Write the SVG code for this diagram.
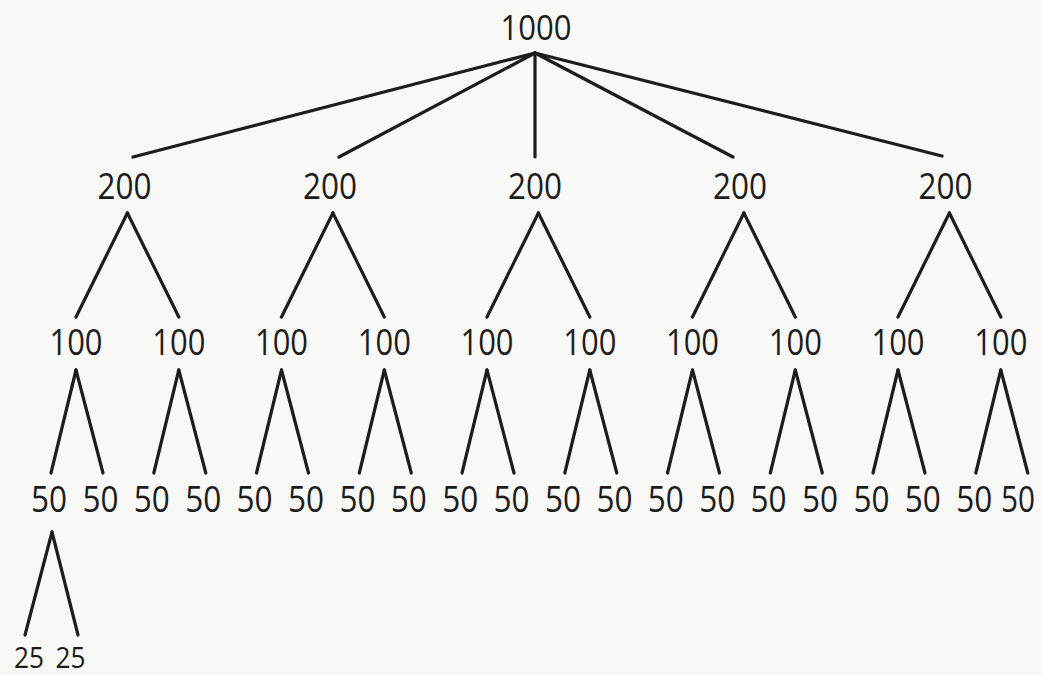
<svg xmlns="http://www.w3.org/2000/svg" width="1042" height="675" viewBox="0 0 1042 675">
<style>
.bg{fill:#f8f8f6}
text{font-family:"Open Sans","Noto Sans","DejaVu Sans",sans-serif;fill:#1c1c1c;text-anchor:middle}
.l0{font-size:35px}
.l1,.l2,.l3{font-size:37px}
.l4{font-size:29px}
.c line{stroke:#1c1c1c;stroke-width:3.2;stroke-linecap:round}
</style>
<rect class="bg" width="1042" height="675"/>
<g id="connectors" class="c">
<line x1="535" y1="53" x2="133" y2="157"/>
<line x1="535" y1="53" x2="339" y2="157"/>
<line x1="535" y1="53" x2="535" y2="157"/>
<line x1="535" y1="53" x2="733" y2="157"/>
<line x1="535" y1="53" x2="942" y2="156"/>
<line x1="127.4" y1="213" x2="76" y2="317"/><line x1="127.4" y1="213" x2="178.8" y2="317"/>
<line x1="332.9" y1="213" x2="281.5" y2="317"/><line x1="332.9" y1="213" x2="384.3" y2="317"/>
<line x1="538.4" y1="213" x2="487" y2="317"/><line x1="538.4" y1="213" x2="589.8" y2="317"/>
<line x1="743.9" y1="213" x2="692.5" y2="317"/><line x1="743.9" y1="213" x2="795.3" y2="317"/>
<line x1="949.4" y1="213" x2="898" y2="317"/><line x1="949.4" y1="213" x2="1000.8" y2="317"/>
<line x1="76" y1="370" x2="51" y2="473"/><line x1="76" y1="370" x2="103" y2="473"/>
<line x1="178.8" y1="370" x2="153.8" y2="473"/><line x1="178.8" y1="370" x2="205.8" y2="473"/>
<line x1="281.5" y1="370" x2="256.5" y2="473"/><line x1="281.5" y1="370" x2="308.5" y2="473"/>
<line x1="384.3" y1="370" x2="359.3" y2="473"/><line x1="384.3" y1="370" x2="411.3" y2="473"/>
<line x1="487" y1="370" x2="462" y2="473"/><line x1="487" y1="370" x2="514" y2="473"/>
<line x1="589.8" y1="370" x2="564.8" y2="473"/><line x1="589.8" y1="370" x2="616.8" y2="473"/>
<line x1="692.5" y1="370" x2="667.5" y2="473"/><line x1="692.5" y1="370" x2="719.5" y2="473"/>
<line x1="795.3" y1="370" x2="770.3" y2="473"/><line x1="795.3" y1="370" x2="822.3" y2="473"/>
<line x1="898" y1="370" x2="873" y2="473"/><line x1="898" y1="370" x2="925" y2="473"/>
<line x1="1000.8" y1="370" x2="975.8" y2="473"/><line x1="1000.8" y1="370" x2="1027.8" y2="473"/>
<line x1="52" y1="532" x2="25" y2="635"/><line x1="52" y1="532" x2="78" y2="635"/>
</g>
<g id="n1000"><text class="l0" x="536" y="40" textLength="71" lengthAdjust="spacingAndGlyphs">1000</text></g>
<g id="n200a"><text class="l1" x="124.5" y="199" textLength="54" lengthAdjust="spacingAndGlyphs">200</text></g>
<g id="n200b"><text class="l1" x="330" y="199" textLength="54" lengthAdjust="spacingAndGlyphs">200</text></g>
<g id="n200c"><text class="l1" x="535" y="199" textLength="54" lengthAdjust="spacingAndGlyphs">200</text></g>
<g id="n200d"><text class="l1" x="740" y="199" textLength="54" lengthAdjust="spacingAndGlyphs">200</text></g>
<g id="n200e"><text class="l1" x="945.5" y="199" textLength="54" lengthAdjust="spacingAndGlyphs">200</text></g>
<g id="n100a"><text class="l2" x="76" y="355" textLength="53" lengthAdjust="spacingAndGlyphs">100</text></g>
<g id="n100b"><text class="l2" x="178.8" y="355" textLength="53" lengthAdjust="spacingAndGlyphs">100</text></g>
<g id="n100c"><text class="l2" x="281.5" y="355" textLength="53" lengthAdjust="spacingAndGlyphs">100</text></g>
<g id="n100d"><text class="l2" x="384.3" y="355" textLength="53" lengthAdjust="spacingAndGlyphs">100</text></g>
<g id="n100e"><text class="l2" x="487" y="355" textLength="53" lengthAdjust="spacingAndGlyphs">100</text></g>
<g id="n100f"><text class="l2" x="589.8" y="355" textLength="53" lengthAdjust="spacingAndGlyphs">100</text></g>
<g id="n100g"><text class="l2" x="692.5" y="355" textLength="53" lengthAdjust="spacingAndGlyphs">100</text></g>
<g id="n100h"><text class="l2" x="795.3" y="355" textLength="53" lengthAdjust="spacingAndGlyphs">100</text></g>
<g id="n100i"><text class="l2" x="898" y="355" textLength="53" lengthAdjust="spacingAndGlyphs">100</text></g>
<g id="n100j"><text class="l2" x="1000.8" y="355" textLength="53" lengthAdjust="spacingAndGlyphs">100</text></g>
<g id="n50a"><text class="l3" x="49" y="512" textLength="36" lengthAdjust="spacingAndGlyphs">50</text></g>
<g id="n50b"><text class="l3" x="100.4" y="512" textLength="36" lengthAdjust="spacingAndGlyphs">50</text></g>
<g id="n50c"><text class="l3" x="151.8" y="512" textLength="36" lengthAdjust="spacingAndGlyphs">50</text></g>
<g id="n50d"><text class="l3" x="203.2" y="512" textLength="36" lengthAdjust="spacingAndGlyphs">50</text></g>
<g id="n50e"><text class="l3" x="254.6" y="512" textLength="36" lengthAdjust="spacingAndGlyphs">50</text></g>
<g id="n50f"><text class="l3" x="306" y="512" textLength="36" lengthAdjust="spacingAndGlyphs">50</text></g>
<g id="n50g"><text class="l3" x="357.4" y="512" textLength="36" lengthAdjust="spacingAndGlyphs">50</text></g>
<g id="n50h"><text class="l3" x="408.8" y="512" textLength="36" lengthAdjust="spacingAndGlyphs">50</text></g>
<g id="n50i"><text class="l3" x="460.2" y="512" textLength="36" lengthAdjust="spacingAndGlyphs">50</text></g>
<g id="n50j"><text class="l3" x="511.6" y="512" textLength="36" lengthAdjust="spacingAndGlyphs">50</text></g>
<g id="n50k"><text class="l3" x="563" y="512" textLength="36" lengthAdjust="spacingAndGlyphs">50</text></g>
<g id="n50l"><text class="l3" x="614.4" y="512" textLength="36" lengthAdjust="spacingAndGlyphs">50</text></g>
<g id="n50m"><text class="l3" x="665.8" y="512" textLength="36" lengthAdjust="spacingAndGlyphs">50</text></g>
<g id="n50n"><text class="l3" x="717.2" y="512" textLength="36" lengthAdjust="spacingAndGlyphs">50</text></g>
<g id="n50o"><text class="l3" x="768.6" y="512" textLength="36" lengthAdjust="spacingAndGlyphs">50</text></g>
<g id="n50p"><text class="l3" x="820" y="512" textLength="36" lengthAdjust="spacingAndGlyphs">50</text></g>
<g id="n50q"><text class="l3" x="871.4" y="512" textLength="36" lengthAdjust="spacingAndGlyphs">50</text></g>
<g id="n50r"><text class="l3" x="922.8" y="512" textLength="36" lengthAdjust="spacingAndGlyphs">50</text></g>
<g id="n50s"><text class="l3" x="974.2" y="512" textLength="36" lengthAdjust="spacingAndGlyphs">50</text></g>
<g id="n50t"><text class="l3" x="1018" y="512" textLength="34" lengthAdjust="spacingAndGlyphs">50</text></g>
<g id="n25a"><text class="l4" x="29" y="668" textLength="30" lengthAdjust="spacingAndGlyphs">25</text></g>
<g id="n25b"><text class="l4" x="70.5" y="668" textLength="30" lengthAdjust="spacingAndGlyphs">25</text></g>
</svg>
